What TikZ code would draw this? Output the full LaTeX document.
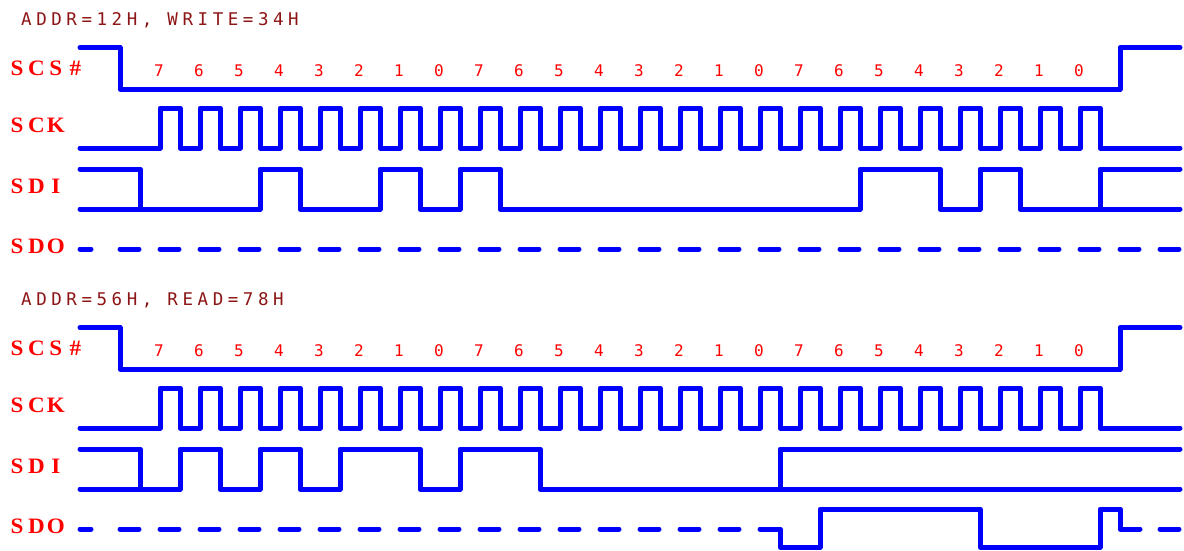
\documentclass[tikz,border=0pt]{standalone}
\usepackage{fontspec}
\newfontfamily\titlefont{DejaVu Sans Mono}[LetterSpace=26]
\newfontfamily\digitfont{DejaVu Sans Mono}
\newfontfamily\labelfont{Liberation Serif}[FakeStretch=1.05]
\newcommand\monobox[1]{\makebox[19.5pt][c]{#1}}
\definecolor{waveblue}{RGB}{0,0,255}
\definecolor{sigred}{RGB}{255,0,0}
\definecolor{titlered}{RGB}{140,20,20}
\tikzset{
  wave/.style={draw=waveblue, line width=5pt, line cap=round, line join=round},
  siglabel/.style={anchor=base west, inner sep=0pt, text=sigred, font=\labelfont\bfseries\fontsize{22}{22}\selectfont},
  titletext/.style={anchor=base west, inner sep=0pt, text=titlered, font=\titlefont\fontsize{17.5}{17.5}\selectfont},
  digit/.style={anchor=base, inner sep=0pt, text=sigred, font=\digitfont\fontsize{16}{16}\selectfont},
}
\begin{document}
\begin{tikzpicture}[x=1pt,y=-1pt]
\useasboundingbox (0,0) rectangle (1184,550);
\foreach \p/\ttl/\pn in {0/{ADDR=12H, WRITE=34H}/a, 280/{ADDR=56H, READ=78H}/b} {
\begin{scope}[shift={(0,\p)}]
  \node[titletext] (title\pn) at (21,25) {\ttl};
  \node[siglabel] (scs\pn) at (7,75) {\monobox{S}\monobox{C}\monobox{S}\monobox{\#}};
  \node[siglabel] (sck\pn) at (7,132) {\monobox{S}\monobox{C}\monobox{K}};
  \node[siglabel] (sdi\pn) at (7,193) {\monobox{S}\monobox{D}\monobox{I}};
  \node[siglabel] (sdo\pn) at (7,253) {\monobox{S}\monobox{D}\monobox{O}};
  % chip select
  \draw[wave] (80,47.5) -- (120,47.5) -- (120,89) -- (1120,89) -- (1120,47.5) -- (1180,47.5);
  % clock
  \draw[wave] (80,148) foreach \k in {0,...,23} { -- ({160+40*\k},148) -- ({160+40*\k},108) -- ({180+40*\k},108) -- ({180+40*\k},148) } -- (1180,148);
  % bit numbers
  \foreach \k in {0,...,23} {
    \pgfmathtruncatemacro\b{7-mod(\k,8)}
    \node[digit] (bit\pn\k) at ({159+40*\k},76) {\b};
  }
\end{scope}
}
% ---- write cycle: SDI ----
\draw[wave] (80,169) -- (140,169) -- (140,209);
\draw[wave] (80,209) -- (260,209) -- (260,169) -- (300,169) -- (300,209) -- (380,209) -- (380,169) -- (420,169) -- (420,209) -- (460,209) -- (460,169) -- (500,169) -- (500,209) -- (860,209) -- (860,169) -- (940,169) -- (940,209) -- (980,209) -- (980,169) -- (1020,169) -- (1020,209) -- (1180,209);
\draw[wave] (1100,209) -- (1100,169) -- (1180,169);
% ---- write cycle: SDO (tri-state) ----
\draw[wave] (80,249) -- (91,249);
\foreach \k in {0,...,26} { \draw[wave] ({120+40*\k},249) -- ({139+40*\k},249); }
% ---- read cycle ----
\begin{scope}[shift={(0,280)}]
\draw[wave] (80,169) -- (140,169) -- (140,209);
\draw[wave] (80,209) -- (180,209) -- (180,169) -- (220,169) -- (220,209) -- (260,209) -- (260,169) -- (300,169) -- (300,209) -- (340,209) -- (340,169) -- (420,169) -- (420,209) -- (460,209) -- (460,169) -- (540,169) -- (540,209) -- (1180,209);
\draw[wave] (780,209) -- (780,169) -- (1180,169);
\draw[wave] (80,249) -- (91,249);
\foreach \k in {0,...,15} { \draw[wave] ({120+40*\k},249) -- ({139+40*\k},249); }
\draw[wave] (760,249) -- (780,249) -- (780,267) -- (820,267) -- (820,229) -- (980,229) -- (980,267) -- (1100,267) -- (1100,229) -- (1120,229) -- (1120,249) -- (1140,249);
\draw[wave] (1160,249) -- (1179,249);
\end{scope}
\end{tikzpicture}
\end{document}
